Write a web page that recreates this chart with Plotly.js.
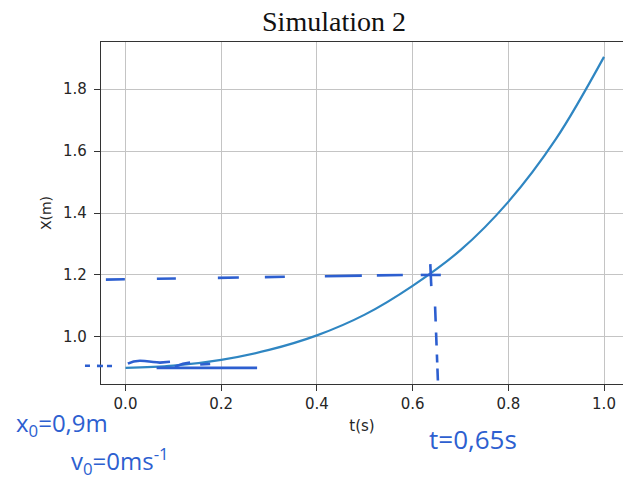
<!DOCTYPE html>
<html>
<head>
<meta charset="utf-8">
<script src="https://cdn.plot.ly/plotly-3.0.1.min.js"></script>
<style>html,body{margin:0;padding:0;background:#fff;}#chart{width:623px;height:481px;}</style>
</head>
<body>
<div id="chart"></div>
<script>
// ---- data ----
const tValues = [0.0, 0.1, 0.2, 0.3, 0.4, 0.5, 0.6, 0.7, 0.8, 0.9, 1.0];
const xValues = [0.900, 0.907, 0.926, 0.958, 1.005, 1.072, 1.165, 1.280, 1.436, 1.640, 1.904];
const xTickVals = [0.0, 0.2, 0.4, 0.6, 0.8, 1.0];
const yTickVals = [1.0, 1.2, 1.4, 1.6, 1.8];
const titleText = "Simulation 2";
const xTitle = "t(s)";
const yTitle = "X(m)";
// handwritten notes
const tMark = 0.65;
const xMark = 1.2;
const x0Mark = 0.9;
const noteTexts = ["x<sub>0</sub>=0,9m", "v<sub>0</sub>=0ms<sup>-1</sup>", "t=0,65s"];

const ink = "#2d5fd0";
const inkW = 2.6;

const trace = {
  x: tValues, y: xValues, type: "scatter", mode: "lines",
  line: {color: "#2f86c2", width: 2.2, shape: "spline", smoothing: 1},
  hoverinfo: "skip"
};

const shapes = [
  // horizontal dashed line towards x = 1.2
  {type: "line", xref: "x", yref: "y", x0: -0.041, y0: xMark - 0.015, x1: tMark - 0.07, y1: xMark,
   line: {color: ink, width: inkW, dash: "19px,32px,19px,42px,21px,26px,20px,40px,37px,15px,26px,200px"}},
  // cross at the intersection
  {type: "line", xref: "x", yref: "y", x0: tMark - 0.033, y0: xMark, x1: tMark + 0.009, y1: xMark,
   line: {color: ink, width: inkW}},
  {type: "line", xref: "x", yref: "y", x0: tMark - 0.013, y0: xMark + 0.035, x1: tMark - 0.011, y1: xMark - 0.036,
   line: {color: ink, width: inkW}},
  // vertical dashed line down to t = 0.65
  {type: "line", xref: "x", yref: "y", x0: tMark - 0.003, y0: 1.098, x1: tMark + 0.003, y1: 0.853,
   line: {color: ink, width: inkW, dash: "15px,11px,13px,9px,8px,6px,12px,200px"}},
  // line at x0 = 0.9
  {type: "line", xref: "x", yref: "y", x0: 0.065, y0: x0Mark, x1: 0.275, y1: x0Mark,
   line: {color: ink, width: inkW}},
  // scribbles near x0
  {type: "path", xref: "x", yref: "y",
   path: "M0.005,0.914 Q0.02,0.926 0.04,0.922 T0.072,0.917 L0.093,0.920",
   line: {color: ink, width: inkW}},
  {type: "path", xref: "x", yref: "y",
   path: "M0.103,0.904 L0.12,0.913 L0.135,0.917",
   line: {color: ink, width: inkW}},
  {type: "line", xref: "x", yref: "y", x0: 0.156, y0: 0.911, x1: 0.177, y1: 0.913,
   line: {color: ink, width: inkW}},
  // left dots
  {type: "line", xref: "paper", yref: "y", x0: -0.0307, y0: x0Mark + 0.007, x1: 0.0211, y1: x0Mark + 0.006,
   line: {color: ink, width: inkW, dash: "5px,7px,6px,4px,6px,100px"}}
];

const noteFont = {family: "Open Sans", size: 24, color: ink};
const annotations = [
  {text: noteTexts[0], xref: "paper", yref: "paper", x: -0.075, y: -0.116,
   xanchor: "center", yanchor: "middle", showarrow: false, font: noteFont},
  {text: noteTexts[1], xref: "paper", yref: "paper", x: 0.036, y: -0.226,
   xanchor: "center", yanchor: "middle", showarrow: false, font: noteFont},
  {text: noteTexts[2], xref: "paper", yref: "paper", x: 0.713, y: -0.16,
   xanchor: "center", yanchor: "middle", showarrow: false,
   font: {family: "Open Sans", size: 26, color: ink}}
];

const axisCommon = {
  showgrid: true, gridcolor: "#c4c4c4", gridwidth: 1,
  zeroline: false, showline: true, linecolor: "#333", linewidth: 1.2,
  ticks: "outside", ticklen: 6, tickwidth: 1, tickcolor: "#333",
  tickfont: {family: "DejaVu Sans", size: 15, color: "#262626"},
  tickformat: ".1f", automargin: false
};

const layout = {
  width: 623, height: 481,
  margin: {l: 101, r: 0, t: 42, b: 97, pad: 0},
  paper_bgcolor: "#fff", plot_bgcolor: "#fff",
  showlegend: false,
  title: {text: titleText, xref: "container", x: 334 / 623, xanchor: "center",
          yref: "container", y: 1 - 21 / 481, yanchor: "middle",
          font: {family: "Liberation Serif", size: 28, color: "#111"}},
  xaxis: Object.assign({}, axisCommon, {
    range: [-0.0512, 1.0397], tickvals: xTickVals, mirror: true,
    title: {text: xTitle, standoff: 8, font: {family: "DejaVu Sans", size: 15, color: "#262626"}}
  }),
  yaxis: Object.assign({}, axisCommon, {
    range: [0.848, 1.952], tickvals: yTickVals, mirror: false,
    ticklabelstandoff: 4,
    title: {text: yTitle, standoff: 8, font: {family: "DejaVu Sans", size: 14, color: "#262626"}}
  }),
  shapes: shapes,
  annotations: annotations
};

Plotly.newPlot("chart", [trace], layout, {staticPlot: true, displayModeBar: false});
</script>
</body>
</html>
